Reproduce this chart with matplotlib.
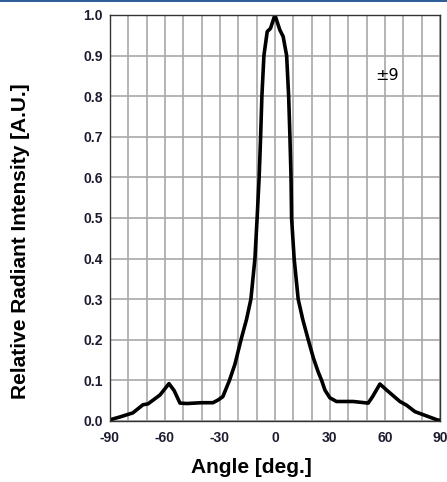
import matplotlib.pyplot as plt
from matplotlib.patches import Rectangle

# Curve
angle = [-90, -84.5, -77.5, -72, -69.3, -62.7, -57.8, -55, -51.8, -48, -40, -33.8, -30.9,
         -28.4, -24.8, -21.8, -18.5, -15.5, -13.1, -10.9, -9.7, -8.6, -7.8, -7.1, -6.0,
         -4.2, -2.4, 0, 2.7, 4.5, 6.4, 7.5, 8.2, 8.8, 9.1, 10.5, 12.7, 15.2,
         18.2, 21.0, 23.6, 25.5, 27.3, 30, 33.6, 42.7, 50.9, 53.3, 57.3, 61, 68.2, 71.8,
         76.4, 83.6, 89, 90]
intensity = [0.003, 0.01, 0.02, 0.04, 0.042, 0.064, 0.092, 0.075, 0.044, 0.043, 0.045, 0.045, 0.052,
             0.06, 0.1, 0.14, 0.2, 0.25, 0.3, 0.4, 0.5, 0.6, 0.7, 0.8, 0.9,
             0.959, 0.967, 1.0, 0.963, 0.947, 0.9, 0.8, 0.7, 0.6, 0.5, 0.4, 0.3, 0.25,
             0.2, 0.155, 0.121, 0.1, 0.076, 0.057, 0.048, 0.048, 0.044, 0.06, 0.091, 0.076, 0.048, 0.039,
             0.023, 0.011, 0.002, 0.002]

x_ticks = [-90, -60, -30, 0, 30, 60, 90]
y_ticks = [0.0, 0.1, 0.2, 0.3, 0.4, 0.5, 0.6, 0.7, 0.8, 0.9, 1.0]

fig = plt.figure(figsize=(4.47, 4.82), dpi=100)
ax = fig.add_axes([0.246, 0.1266, 0.738, 0.8423])

# blue rule along the top of the page
fig.add_artist(Rectangle((0, 0.996), 1, 0.004, transform=fig.transFigure,
                         color='#2f5f98', lw=0))

ax.plot(angle, intensity, color='black', lw=2.6, solid_joinstyle='round')

ax.set_xlim(-90, 90)
ax.set_ylim(0, 1.0)
ax.set_xticks(range(-90, 91, 10))
ax.set_xticklabels([str(v) if v in x_ticks else '' for v in range(-90, 91, 10)])
ax.set_yticks(y_ticks)
ax.set_yticklabels([f'{v:.1f}' for v in y_ticks])
ax.grid(True, color='#a8a8a8', lw=1.2)
ax.set_axisbelow(True)
ax.tick_params(length=0, labelsize=10, pad=5)
ax.tick_params(axis='x', pad=7)
for lab in ax.get_xticklabels() + ax.get_yticklabels():
    lab.set_fontweight('bold')
    lab.set_fontfamily('Liberation Sans')
    lab.set_color('#1c1c30')
for s in ax.spines.values():
    s.set_color('#333333')
    s.set_linewidth(1.0)

ax.text(61, 0.852, '\u00b19', fontsize=11.5, family='DejaVu Sans',
        ha='center', va='center')

fig.text(0.5615, 0.031, 'Angle [deg.]', fontsize=15, fontweight='bold',
         family='Liberation Sans', ha='center', va='center')
fig.text(0.045, 0.5, 'Relative Radiant Intensity [A.U.]', fontsize=15, fontweight='bold',
         family='Liberation Sans', ha='center', va='center', rotation=90)

plt.savefig('out.png', dpi=100)
